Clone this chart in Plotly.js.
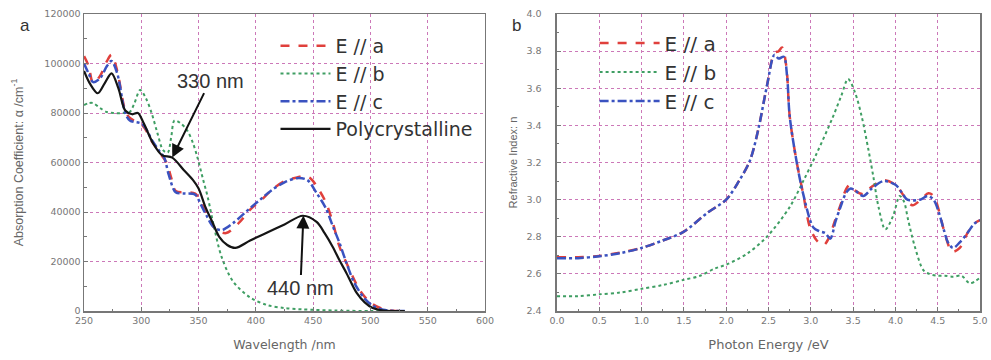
<!DOCTYPE html>
<html>
<head>
<meta charset="utf-8">
<script src="https://cdn.plot.ly/plotly-3.0.1.min.js"></script>
<style>html,body{margin:0;padding:0;background:#fff;}#chart{width:991px;height:360px;}</style>
</head>
<body>
<div id="chart"></div>
<script>
// ---- Panel a: absorption coefficient vs wavelength ----
const polyWl  = [250,255,262,268,274,280,286,292,297,302,310,318,327,337,345,350,356,362,368,375,382,395,409,425,441,453,460,467,473,479,488,495,502,510,520,530];
const polyAbs = [97000,92000,88000,92000,96000,90000,81000,79500,80000,76000,68000,63000,62000,57000,53000,49500,42000,36000,30000,26700,25500,28500,31500,35000,38500,36000,31500,26000,20500,15400,7300,3500,1200,300,0,0];

const aWl  = [250,254,258,264,270,274,279,286,290,301,310,316,322,326,330,338,347,352,357,364,374,386,395,405,414,425,436,442,448,455,461,467,473,482,491,500,511,520,530];
const aAbs = [103000,99000,92000,95000,101000,103500,97000,81000,78000,75000,68000,64000,60000,54000,48500,48000,47500,44000,39500,33500,31500,36000,41000,45000,49000,52500,54000,54500,53500,49000,44000,36000,26000,16500,8200,3400,800,100,0];

const cWl  = [250,254,258,264,270,274,279,286,290,301,310,316,320,324,330,338,347,352,357,363,370,380,395,405,414,425,436,445,453,461,467,473,479,486,495,502,511,520,530];
const cAbs = [100000,96000,92500,94000,99000,101000,96000,80000,77000,75500,68500,64500,62000,55000,48000,47500,47000,43000,38500,34000,32700,35500,41600,45500,48900,52000,53700,52900,47700,41600,34500,27500,19500,11300,5000,2200,500,100,0];

const bWl  = [250,254,258,264,270,276,283,290,294,299,304,309,314,319,323,326,329,334,340,345,349,354,358,363,370,380,395,410,425,440,470,500,510];
const bAbs = [83200,84000,84000,82000,80400,80000,80000,80500,84000,89300,86000,80000,72000,65000,64000,70000,77000,76000,73000,68000,62000,53000,46000,35000,22000,12000,5500,2400,1200,700,200,0,0];

// ---- Panel b: refractive index vs photon energy ----
const aE = [0.0,0.25,0.5,0.75,1.0,1.25,1.49,1.78,2.0,2.15,2.28,2.38,2.48,2.57,2.62,2.66,2.71,2.75,2.83,2.91,2.99,3.07,3.15,3.22,3.28,3.35,3.42,3.46,3.52,3.62,3.72,3.86,4.0,4.1,4.2,4.3,4.39,4.45,4.52,4.57,4.67,4.76,4.85,4.93,5.0];
const aN = [2.69,2.69,2.697,2.715,2.74,2.78,2.825,2.93,3.0,3.1,3.21,3.38,3.61,3.79,3.80,3.82,3.72,3.45,3.21,3.03,2.85,2.78,2.755,2.80,2.88,2.97,3.06,3.08,3.05,3.03,3.07,3.105,3.08,3.02,2.97,3.0,3.035,3.02,2.93,2.84,2.72,2.74,2.82,2.87,2.89];

const cE = [0.0,0.25,0.5,0.75,1.0,1.25,1.49,1.78,2.0,2.15,2.28,2.38,2.48,2.57,2.62,2.68,2.72,2.75,2.83,2.91,3.03,3.1,3.17,3.23,3.29,3.35,3.42,3.47,3.52,3.62,3.72,3.86,4.0,4.08,4.14,4.29,4.38,4.45,4.52,4.57,4.62,4.68,4.76,4.85,4.93,5.0];
const cN = [2.685,2.685,2.695,2.712,2.74,2.78,2.825,2.93,3.0,3.1,3.21,3.38,3.61,3.78,3.76,3.77,3.66,3.45,3.21,3.03,2.85,2.83,2.82,2.79,2.88,2.96,3.04,3.06,3.05,3.02,3.06,3.10,3.08,3.035,3.0,3.0,3.02,3.0,2.92,2.84,2.77,2.74,2.77,2.82,2.87,2.89];

const bE = [0.0,0.25,0.5,0.75,1.0,1.25,1.49,1.69,1.87,2.0,2.25,2.48,2.75,2.91,3.07,3.26,3.36,3.44,3.52,3.6,3.68,3.74,3.8,3.88,3.97,4.05,4.1,4.15,4.23,4.33,4.4,4.49,4.58,4.68,4.78,4.88,5.0];
const bN = [2.48,2.48,2.49,2.50,2.52,2.54,2.567,2.59,2.63,2.65,2.71,2.80,2.96,3.10,3.25,3.445,3.56,3.65,3.58,3.45,3.27,3.12,2.96,2.84,2.91,3.02,2.99,2.89,2.745,2.62,2.60,2.59,2.59,2.585,2.59,2.55,2.58];

const red = '#e0403c', green = '#3f9e63', blue = '#3a52c0', black = '#151515';
const fnt = 'Liberation Sans, Arial, sans-serif';
const wide = 'DejaVu Sans, sans-serif';

const traces = [
  {x: aWl, y: aAbs, name: 'E // a', mode: 'lines', line: {color: red, width: 2.5, dash: 'dash', shape: 'spline', smoothing: 0.9}, xaxis: 'x', yaxis: 'y', legend: 'legend'},
  {x: bWl, y: bAbs, name: 'E // b', mode: 'lines', line: {color: green, width: 2, dash: 'dot', shape: 'spline', smoothing: 0.9}, xaxis: 'x', yaxis: 'y', legend: 'legend'},
  {x: cWl, y: cAbs, name: 'E // c', mode: 'lines', line: {color: blue, width: 2.5, dash: 'dashdot', shape: 'spline', smoothing: 0.9}, xaxis: 'x', yaxis: 'y', legend: 'legend'},
  {x: polyWl, y: polyAbs, name: 'Polycrystalline', mode: 'lines', line: {color: black, width: 2.2, shape: 'spline', smoothing: 0.9}, xaxis: 'x', yaxis: 'y', legend: 'legend'},
  {x: aE, y: aN, name: 'E // a', mode: 'lines', line: {color: red, width: 2.5, dash: 'dash', shape: 'spline', smoothing: 0.9}, xaxis: 'x2', yaxis: 'y2', legend: 'legend2'},
  {x: bE, y: bN, name: 'E // b', mode: 'lines', line: {color: green, width: 2, dash: 'dot', shape: 'spline', smoothing: 0.9}, xaxis: 'x2', yaxis: 'y2', legend: 'legend2'},
  {x: cE, y: cN, name: 'E // c', mode: 'lines', line: {color: blue, width: 2.5, dash: 'dashdot', shape: 'spline', smoothing: 0.9}, xaxis: 'x2', yaxis: 'y2', legend: 'legend2'}
];

const gridCol = '#cc78b8';
function axis(extra) {
  return Object.assign({
    showline: true, linecolor: '#777', linewidth: 1.5, mirror: true,
    ticks: 'inside', ticklen: 4, tickcolor: '#777',
    showgrid: true, gridcolor: gridCol, griddash: '3px,3px', gridwidth: 1,
    zeroline: false,
    tickfont: {family: wide, size: 9.5, color: '#777'}
  }, extra);
}
function minor(dt) { return {ticks: 'inside', ticklen: 2.5, tickcolor: '#777', dtick: dt, showgrid: false}; }

const layout = {
  width: 991, height: 360,
  margin: {l: 0, r: 0, t: 0, b: 0},
  paper_bgcolor: '#fff', plot_bgcolor: '#fff',
  font: {family: fnt, color: '#555'},
  xaxis: axis({domain: [0.0848, 0.4894], range: [250, 600], dtick: 50, tick0: 250, minor: minor(25),
    title: {text: 'Wavelength /nm', font: {family: wide, size: 12.5, color: '#666'}, standoff: 15}, anchor: 'y'}),
  yaxis: axis({domain: [0.136, 0.961], range: [0, 120000], dtick: 20000, tickformat: 'd', minor: minor(10000),
    title: {text: 'Absorption Coefficient: α /cm<sup>-1</sup>', font: {family: fnt, size: 12.5, color: '#666'}, standoff: 18}, anchor: 'x'}),
  xaxis2: axis({domain: [0.562, 0.989], range: [0, 5], dtick: 0.5, tickformat: '.1f', minor: minor(0.25),
    title: {text: 'Photon Energy /eV', font: {family: wide, size: 13, color: '#666'}, standoff: 15}, anchor: 'y2'}),
  yaxis2: axis({domain: [0.136, 0.961], range: [2.4, 4.0], dtick: 0.2, tickformat: '.1f', minor: minor(0.1), ticklabelstandoff: 12,
    title: {text: 'Refractive Index: n', font: {family: fnt, size: 11, color: '#666'}, standoff: 6}, anchor: 'x2'}),
  legend: {x: 0.278, y: 0.925, xanchor: 'left', yanchor: 'top', bgcolor: 'rgba(0,0,0,0)', font: {family: wide, size: 19, color: '#333'}, tracegroupgap: 0, itemwidth: 50},
  legend2: {x: 0.6, y: 0.935, xanchor: 'left', yanchor: 'top', bgcolor: 'rgba(0,0,0,0)', font: {family: wide, size: 20, color: '#333'}, tracegroupgap: 0, itemwidth: 60},
  annotations: [
    {xref: 'paper', yref: 'paper', x: 18/991, y: 1 - 14/360, text: 'a', showarrow: false, font: {family: fnt, size: 17, color: '#333'}},
    {xref: 'paper', yref: 'paper', x: 516/991, y: 1 - 14/360, text: 'b', showarrow: false, font: {family: fnt, size: 17, color: '#333'}},
    {xref: 'x', yref: 'y', x: 327, y: 62000, ax: 38, ay: -77, text: '330 nm', showarrow: true, arrowhead: 2, arrowsize: 1.3, arrowwidth: 2, arrowcolor: '#111', font: {family: fnt, size: 20, color: '#333'}},
    {xref: 'x', yref: 'y', x: 441.5, y: 38600, ax: -3, ay: 72, text: '440 nm', showarrow: true, arrowhead: 2, arrowsize: 1.3, arrowwidth: 2, arrowcolor: '#111', font: {family: fnt, size: 20, color: '#333'}}
  ]
};

Plotly.newPlot('chart', traces, layout, {displayModeBar: false, staticPlot: true});
</script>
</body>
</html>
